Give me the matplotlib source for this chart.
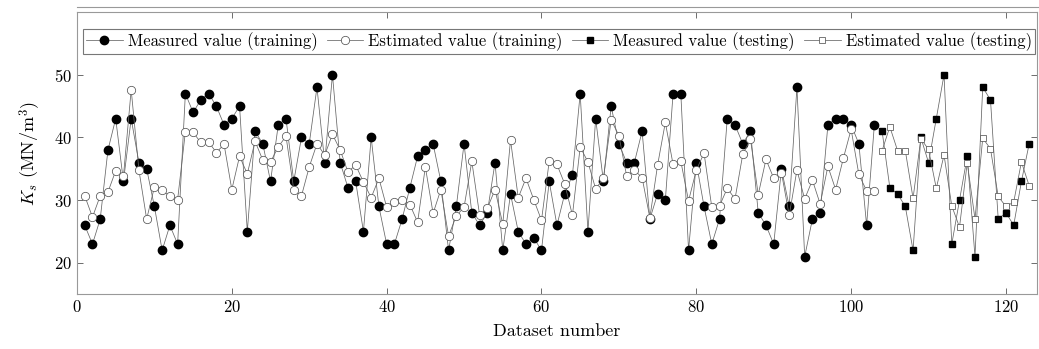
import matplotlib
matplotlib.use('Agg')
from matplotlib import pyplot as plt
from matplotlib.lines import Line2D

plt.rcParams['font.family'] = ['cmr10', 'DejaVu Serif']
plt.rcParams['mathtext.fontset'] = 'cm'
plt.rcParams['axes.formatter.use_mathtext'] = True

# 训练集 1..103, 测试集 104..123
train_x = list(range(1, 104))
train_measured = [26, 23, 27, 38, 43, 33, 43, 36, 35, 29, 22, 26, 23, 47, 44, 46, 47, 45, 42, 43,
                  45, 25, 41, 39, 33, 42, 43, 33, 40, 39, 48, 36, 50, 36, 32, 33, 25, 40, 29, 23,
                  23, 27, 32, 37, 38, 39, 33, 22, 29, 39, 28, 26, 28, 36, 22, 31, 25, 23, 24, 22,
                  33, 26, 31, 34, 47, 25, 43, 33, 45, 39, 36, 36, 41, 27, 31, 30, 47, 47, 22, 36,
                  29, 23, 27, 43, 42, 39, 41, 28, 26, 23, 35, 29, 48, 21, 27, 28, 42, 43, 43, 42,
                  39, 26, 42]
train_estimated = [30.7, 27.3, 30.7, 31.3, 34.7, 33.8, 47.6, 34.8, 27.0, 32.1, 31.6, 30.6, 30.1, 40.9,
                   40.8, 39.2, 39.3, 37.6, 38.9, 31.7, 37.0, 34.2, 39.4, 36.4, 36.1, 38.5, 40.2, 31.7,
                   30.7, 35.3, 39.0, 37.2, 40.5, 38.0, 34.5, 35.6, 32.9, 30.4, 33.5, 28.9, 29.7, 30.0,
                   29.3, 26.5, 35.3, 27.9, 31.7, 24.3, 27.5, 28.9, 36.2, 27.7, 28.7, 31.7, 26.2, 39.6,
                   30.4, 33.5, 30.1, 26.8, 36.2, 35.7, 32.6, 27.6, 38.5, 36.1, 31.8, 33.5, 42.8, 40.3,
                   33.9, 34.8, 33.6, 27.2, 35.6, 42.4, 35.7, 36.2, 29.9, 34.8, 37.5, 28.9, 29.1, 31.9,
                   30.2, 37.3, 39.7, 30.9, 36.5, 33.5, 34.4, 27.6, 34.8, 30.2, 33.2, 29.4, 35.4, 31.7,
                   36.7, 41.3, 34.1, 31.5, 31.5]

test_x = list(range(104, 124))
test_measured = [41, 32, 31, 29, 22, 40, 36, 43, 50, 23, 30, 37, 21, 48, 46, 27, 28, 26, 33, 39]
test_estimated = [37.9, 41.7, 37.9, 37.9, 30.3, 39.8, 38.1, 31.9, 37.2, 29.1, 25.7, 36.0, 27.0, 39.9,
                  38.2, 30.6, 29.0, 29.7, 36.1, 32.3]

fig = plt.figure(figsize=(10.39, 3.49), dpi=100)
ax = fig.add_axes([0.0741, 0.1567, 0.9239, 0.8089])

lc = '#666666'
oc = '#555555'
ax.plot(train_x, train_measured, color=lc, lw=0.55, marker='o', ms=6,
        mfc='black', mec='black')
ax.plot(train_x, train_estimated, color=lc, lw=0.55, marker='o', ms=6,
        mfc='white', mec=oc, mew=0.55)
ax.plot(test_x, test_measured, color=lc, lw=0.55, marker='s', ms=4.8,
        mfc='black', mec='black')
ax.plot(test_x, test_estimated, color=lc, lw=0.55, marker='s', ms=4.8,
        mfc='white', mec=oc, mew=0.55)

ax.set_xlim(0, 124)
ax.set_ylim(15, 60)
ax.set_xticks([0, 20, 40, 60, 80, 100, 120])
ax.set_yticks([20, 30, 40, 50])
ax.tick_params(direction='in', top=True, right=True, length=4, width=0.6,
               color='#555555', labelsize=12)
for s in ax.spines.values():
    s.set_color('#999999')
    s.set_linewidth(0.8)

ax.set_xlabel('Dataset number', fontsize=13, labelpad=6)
ax.set_ylabel(r'$K_s$ (MN/m$^3$)', fontsize=13, labelpad=8)

handles = [
    Line2D([], [], color=lc, lw=0.55, marker='o', ms=6, mfc='black', mec='black'),
    Line2D([], [], color=lc, lw=0.55, marker='o', ms=6, mfc='white', mec=oc, mew=0.55),
    Line2D([], [], color=lc, lw=0.55, marker='s', ms=4.8, mfc='black', mec='black'),
    Line2D([], [], color=lc, lw=0.55, marker='s', ms=4.8, mfc='white', mec=oc, mew=0.55),
]
labels = ['Measured value (training)', 'Estimated value (training)',
          'Measured value (testing)', 'Estimated value (testing)']
leg = ax.legend(handles, labels, ncol=4, loc='lower left', mode='expand',
                bbox_to_anchor=(0.006, 0.851, 0.992, 0.089), fontsize=12,
                frameon=True, fancybox=False, borderpad=0.2, handlelength=2.2,
                handletextpad=0.3, columnspacing=0.8, borderaxespad=0)
leg.get_frame().set_edgecolor('#555555')
leg.get_frame().set_linewidth(0.8)

# 顶部那条多出来的细线
fig.add_artist(Line2D([0.0741, 1.0], [0.98, 0.98], color='#999999', lw=0.8))

fig.savefig('out.png', dpi=100)
